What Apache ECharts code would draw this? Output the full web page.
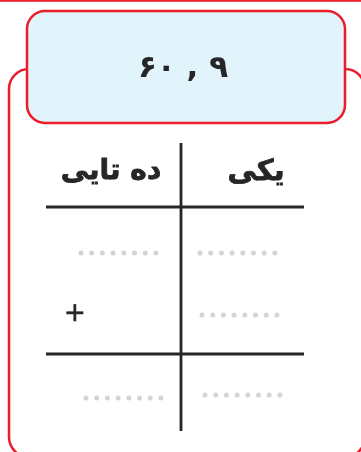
<!DOCTYPE html>
<html><head><meta charset="utf-8">
<script src="https://cdn.jsdelivr.net/npm/echarts@6/dist/echarts.min.js"></script>
<style>html,body{margin:0;padding:0;background:#fff}#c{width:361px;height:452px}</style>
</head><body><div id="c"></div>
<script>
// content
const titleNumbers = ['۶۰', '۹'];
const columnHeaders = ['ده تایی', 'یکی'];
const operatorSign = '+';
const placeholderDots = 8;

const RED = '#ec1c2b', INK = '#262626', DOT = '#d4d4d4';
const chart = echarts.init(document.getElementById('c'), null, {renderer: 'canvas'});
const els = [];
// top edge line
els.push({type: 'line', shape: {x1: 0, y1: 0.8, x2: 361, y2: 0.8}, style: {stroke: RED, lineWidth: 2}});
// outer box
els.push({type: 'rect', shape: {x: 9, y: 69, width: 356, height: 388, r: 20}, style: {fill: '#fff', stroke: RED, lineWidth: 2.5}});
// title box
els.push({type: 'rect', shape: {x: 27, y: 11, width: 318, height: 112, r: 18}, style: {fill: '#e1f3fb', stroke: RED, lineWidth: 2.5}});
els.push({type: 'text', x: 183, y: 69, style: {text: titleNumbers.join(' , '), font: 'bold 31px "DejaVu Sans"', fill: INK, align: 'center', verticalAlign: 'middle'}});
// table lines
els.push({type: 'line', shape: {x1: 181, y1: 143, x2: 181, y2: 431}, style: {stroke: INK, lineWidth: 2.8}});
els.push({type: 'line', shape: {x1: 46, y1: 207, x2: 304, y2: 207}, style: {stroke: INK, lineWidth: 2.8}});
els.push({type: 'line', shape: {x1: 46, y1: 354, x2: 304, y2: 354}, style: {stroke: INK, lineWidth: 2.8}});
// headers
els.push({type: 'text', x: 111, y: 172, style: {text: columnHeaders[0], font: 'bold 28px "DejaVu Sans"', fill: INK, stroke: INK, lineWidth: 0.8, align: 'center', verticalAlign: 'middle'}});
els.push({type: 'text', x: 256, y: 172, style: {text: columnHeaders[1], font: 'bold 29px "DejaVu Sans"', fill: INK, stroke: INK, lineWidth: 0.8, align: 'center', verticalAlign: 'middle'}});
// operator
els.push({type: 'text', x: 75, y: 314, style: {text: operatorSign, font: '26px "DejaVu Sans"', fill: INK, stroke: INK, lineWidth: 0.6, align: 'center', verticalAlign: 'middle'}});
// placeholders
const rows = [[81, 253], [200, 253], [202, 315], [86, 398], [205, 395]];
rows.forEach(([x0, y]) => {
  for (let i = 0; i < placeholderDots; i++) {
    els.push({type: 'circle', shape: {cx: x0 + i * 10.7, cy: y, r: 2.5}, style: {fill: DOT}});
  }
});
chart.setOption({animation: false, graphic: {elements: els}});
</script></body></html>
